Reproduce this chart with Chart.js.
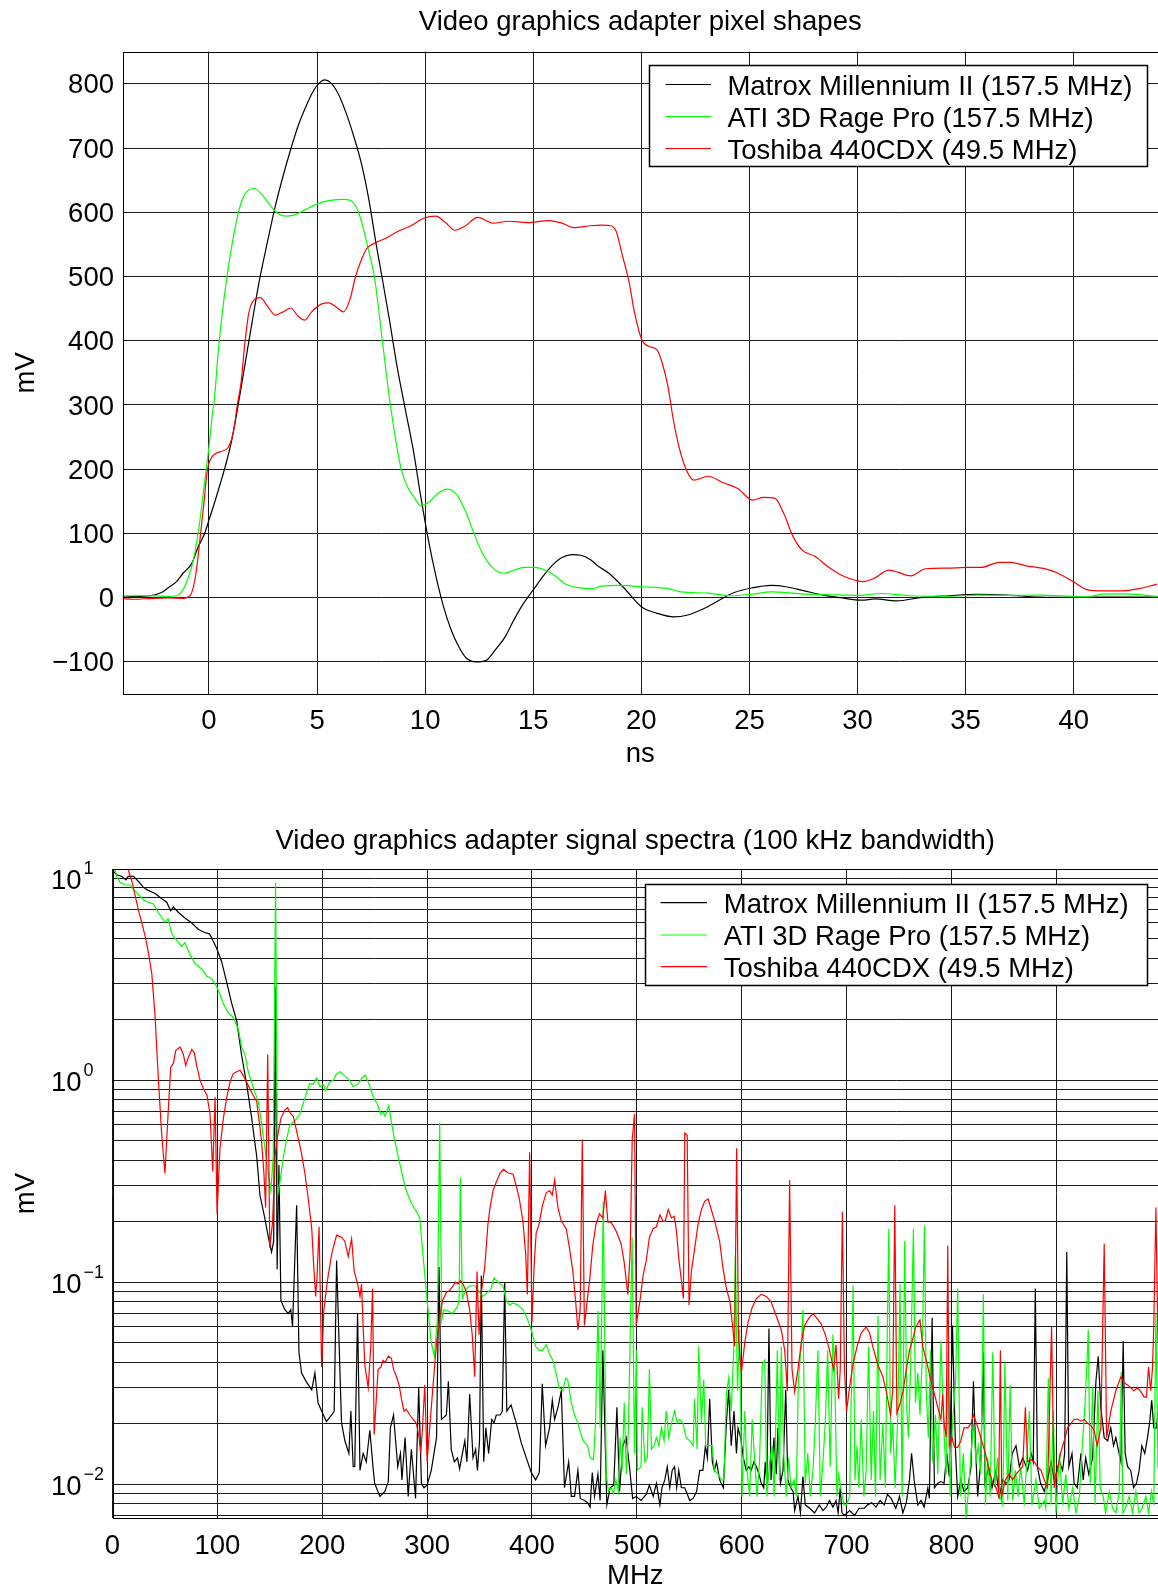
<!DOCTYPE html>
<html>

<head>
    <meta charset='utf-8'>
    <title>Video graphics adapter pixel shapes</title>
    <script src="https://cdn.jsdelivr.net/npm/chart.js@4.4.1/dist/chart.umd.min.js"></script>
    <style>
        body { margin: 0; background: #fff; }
        canvas { display: block; }
    </style>
</head>

<body>
    <canvas id="shapes" width="1158" height="790"></canvas>
    <canvas id="spectra" width="1158" height="799"></canvas>
    <script>
        var cardNames = ['Matrox Millennium II (157.5 MHz)', 'ATI 3D Rage Pro (157.5 MHz)', 'Toshiba 440CDX (49.5 MHz)'];
        var cardColors = ['#000000', '#00ff00', '#ff0000'];

        // tick positions
        var nsTicks = [0, 5, 10, 15, 20, 25, 30, 35, 40];
        var mvTicks = [-100, 0, 100, 200, 300, 400, 500, 600, 700, 800];
        var mhzTicks = [0, 100, 200, 300, 400, 500, 600, 700, 800, 900];
        var decadeValues = [10, 1, 0.1, 0.01];
        var decadeExponents = ['1', '0', '\u22121', '\u22122'];

        // pixel shapes, ns / mV
        var nsMatrox = [-4, -3.3, -2.7, -2.2, -1.9, -1.5, -1.2, -0.8, -0.5, -0.2,
            0, 0.25, 0.5, 0.8, 1.05, 1.3, 1.65, 2, 2.35, 2.7,
            3.05, 3.4, 3.8, 4.15, 4.5, 4.85, 5.1, 5.35, 5.65, 6,
            6.35, 6.7, 7.05, 7.4, 7.75, 8, 8.35, 8.7, 9.1, 9.45,
            9.8, 10.15, 10.5, 10.85, 11.2, 11.55, 11.9, 12.35, 12.8, 13.25,
            13.7, 14.1, 14.55, 15, 15.45, 15.9, 16.35, 16.8, 17.2, 17.65,
            18.05, 18.5, 19.2, 20, 20.7, 21.5, 22.15, 22.9, 23.6, 24.3,
            25.1, 26, 26.7, 27.5, 28.4, 29.2, 30.2, 30.8, 31.8, 33,
            34.2, 35.5, 36.9, 38.4, 40.1, 41.8, 43.9];
        var mvMatrox = [1, 2, 3, 8, 15, 25, 38, 53, 79, 100,
            121, 147, 175, 210, 245, 290, 360, 430, 497, 553,
            607, 653, 700, 737, 766, 790, 801, 806, 801, 783,
            754, 718, 676, 619, 547, 500, 432, 360, 290, 230,
            157, 90, 33, -14, -50, -76, -94, -100, -98, -81,
            -61, -35, -9, 12, 33, 51, 63, 67, 66, 59,
            48, 38, 15, -14, -24, -30, -27, -17, -4, 8,
            15, 19, 17, 11, 4, 0, -4, -2, -5, 0.5,
            3, 5, 4, 1, 0.5, 1, 1];

        var nsAti = [-4, -2.6, -1.9, -1.5, -1.25, -1, -0.72, -0.46, -0.19, 0,
            0.16, 0.25, 0.42, 0.69, 0.95, 1.22, 1.48, 1.75, 2.1, 2.46,
            2.81, 3.16, 3.52, 3.96, 4.4, 5.02, 5.55, 6.25, 6.61, 6.87,
            7.1, 7.35, 7.65, 8.02, 8.37, 8.64, 8.9, 9.22, 9.52, 9.79,
            10.23, 10.58, 11.02, 11.47, 11.91, 12.26, 12.61, 13.14, 13.67, 14.12,
            14.56, 15.09, 15.53, 15.97, 16.5, 17.03, 17.56, 17.9, 18.16, 19.01,
            20.03, 21.23, 21.82, 23.1, 24.12, 25.14, 26, 27.36, 28.72, 30.09,
            31.1, 32.47, 34.17, 35.54, 36.9, 38.4, 39.93, 40.61, 41.3, 42.32, 43.85];
        var mvAti = [3, 3, 2, 3, 9.5, 27, 59, 110, 183, 235,
            287, 308, 380, 464, 526, 578, 614, 632, 637, 627,
            612, 599, 594, 596, 603, 613, 618, 620, 617, 604,
            580, 545, 500, 400, 305, 245, 199, 170, 155, 143,
            150, 162, 169, 160, 131, 100, 72, 46, 38, 43,
            47, 47, 43, 35, 21, 16, 14, 15, 18, 19,
            17, 14, 9, 7, 3, 5.5, 9, 6, 4.5, 3.5,
            6.5, 3, 2, 4, 3.5, 4, 2, 1, 5.5, 6, 2];

        var nsToshiba = [-4, -3.5, -2.6, -1.9, -1.15, -1, -0.8, -0.6, -0.42, -0.25,
            -0.07, 0.16, 0.51, 0.87, 1.04, 1.17, 1.31, 1.48, 1.66, 1.84,
            2.1, 2.37, 2.72, 3.07, 3.43, 3.78, 4.13, 4.43, 4.75, 5.19,
            5.55, 5.9, 6.22, 6.52, 6.78, 7.05, 7.31, 7.67, 8.2, 8.73,
            9.35, 9.96, 10.49, 10.94, 11.38, 11.82, 12.44, 13.14, 13.85, 14.73,
            15.71, 16.33, 16.86, 17.65, 18.16, 18.59, 18.84, 19.1, 19.44, 19.69,
            20.03, 20.37, 20.72, 20.97, 21.23, 21.48, 21.74, 22.08, 22.42, 23.1,
            23.78, 24.46, 25.14, 25.66, 26.17, 26.59, 27.02, 27.44, 28.04, 28.72,
            29.31, 30.26, 30.77, 31.45, 32.47, 33.15, 34.17, 35.02, 35.71, 36.56,
            37.07, 37.75, 38.77, 39.28, 39.97, 40.65, 41.33, 42.27, 43.03, 43.85];
        var mvToshiba = [-1.5, -2.5, -1, -0.5, -1, 0.5, 7.5, 38, 90, 142,
            199, 220, 227, 233, 246, 266, 300, 334, 396, 443,
            464, 467, 453, 440, 445, 451, 438, 432, 445, 457,
            459, 452, 445, 464, 500, 526, 544, 552, 560, 570,
            579, 591, 594, 584, 572, 578, 592, 583, 586, 584,
            587, 583, 576, 579, 580, 579, 570, 536, 490, 443,
            401, 391, 386, 365, 329, 277, 235, 199, 183, 189,
            179, 170, 152, 156, 155, 131, 95, 74, 64, 46,
            34, 25, 30, 43, 34, 45, 46, 47, 47, 55,
            55, 50, 44, 38, 25, 12, 10.5, 10.5, 14, 21];

        // signal spectra, MHz / mV
        var mhzMatrox = [1, 4, 9, 12.7, 15, 20, 25, 29.5, 34, 40.6,
            47, 51.7, 55.5, 58, 62.9, 69, 75.6, 82, 88, 92.4,
            94.6, 99.4, 104, 109, 113.7, 118.4, 123, 128, 132.7, 137.5,
            140.6, 144.8, 148.6, 151.7, 153.7, 155.3, 157, 158.7, 160.6, 164.4,
            167.6, 170, 171.7, 175.6, 177.8, 180.3, 185, 190, 193, 196,
            199.4, 204, 209, 211.4, 213.7, 218.4, 221.6, 225.4, 227.3, 229.5,
            231, 233.7, 236, 239, 242, 245.4, 248.6, 250, 255, 259.7,
            263, 265, 268, 272, 274.6, 276, 279, 282, 285, 289,
            292, 294.6, 297, 300, 304, 309, 311.4, 313.7, 318.4, 320.3,
            323, 326, 329, 331, 333.7, 336, 338, 340.6, 343.8, 346.3,
            348, 350, 351.7, 354, 356, 358.7, 361.6, 363.8, 366, 369.8,
            371.7, 374, 376, 380, 385, 389.8, 394.6, 399.4, 403.5, 407,
            409.8, 413, 416.8, 419.4, 421.6, 424.8, 428, 431, 435, 437.5,
            440.6, 443.8, 446, 450, 453, 455.4, 457.5, 459.7, 462.9, 465,
            467.6, 471.4, 474.6, 478, 481, 483.5, 486.7, 489.8, 493, 496,
            499.4, 504, 509, 512, 515.6, 518.7, 522, 524, 526.7, 529,
            531.4, 533.7, 536, 538, 540, 542.5, 545.7, 550.5, 553.7, 557,
            560, 563, 565.4, 567.3, 569.5, 572, 574, 576, 579, 582.5,
            585.4, 587.6, 590, 592.7, 595, 596.5, 599, 601.6, 604.4, 606.7,
            609, 611.7, 614, 616.5, 618.7, 621, 622.5, 624, 626, 628,
            630.8, 633, 634.6, 637, 639.4, 642, 644, 646.7, 649, 650.5,
            653.7, 656, 658.4, 660.6, 664.8, 669.5, 674, 677.5, 680.6, 683.8,
            687, 690, 692, 694, 695.6, 698, 703, 707.6, 712, 717,
            720, 724, 728, 732, 736, 739, 742.5, 747, 750.5, 753.7,
            757, 760, 762, 764.8, 768, 771, 774, 777.5, 779, 781.6,
            783.8, 787, 790, 793, 795.6, 798, 801, 804, 806, 809,
            812, 815.6, 818.7, 821, 823, 825, 828, 830.5, 832, 835.5,
            838.7, 842.5, 845.7, 849, 852, 855, 858, 861.6, 864.8, 868,
            872.7, 876, 878, 880, 882, 885, 888.6, 891.7, 895, 898,
            903, 906, 908, 910, 912, 915, 917, 920, 923.5, 925.7,
            928, 931, 934.6, 937.8, 940, 942.5, 945.7, 949, 952, 954.6,
            956.8, 959, 961.6, 963.8, 965.7, 968, 971, 973.7, 976.5, 979,
            981.6, 984.4, 987, 989, 991, 993, 995.6, 997];
        var specMatrox = [10.8, 10.4, 10.2, 9.8, 10.2, 10.2, 9.6, 9.0, 8.7, 8.4,
            7.9, 7.6, 6.9, 7.2, 6.76, 6.35, 6.0, 5.57, 5.38, 5.3,
            5.06, 4.48, 3.87, 3.04, 2.39, 1.97, 1.34, 0.95, 0.65, 0.42,
            0.27, 0.213, 0.167, 0.141, 0.16, 2.9, 0.116, 0.38, 0.081, 0.073,
            0.07, 0.073, 0.0605, 0.24, 0.045, 0.0355, 0.032, 0.0293, 0.0355, 0.0253,
            0.023, 0.0204, 0.022, 0.023, 0.128, 0.0201, 0.0164, 0.0142, 0.023, 0.0122,
            0.0122, 0.07, 0.0117, 0.0142, 0.0129, 0.0185, 0.0119, 0.0101, 0.0087, 0.0092,
            0.0103, 0.019, 0.022, 0.0122, 0.0142, 0.0105, 0.017, 0.0087, 0.0149, 0.0085,
            0.030, 0.0101, 0.0096, 0.0099, 0.0117, 0.017, 0.119, 0.0209, 0.022, 0.0323,
            0.0149, 0.0129, 0.0135, 0.0119, 0.0142, 0.0164, 0.0129, 0.0279, 0.0135, 0.0149,
            0.0117, 0.0164, 0.108, 0.0129, 0.019, 0.0142, 0.0209, 0.0201, 0.022, 0.022,
            0.023, 0.10, 0.023, 0.0247, 0.0201, 0.016, 0.0135, 0.0114, 0.0105, 0.0114,
            0.0314, 0.0155, 0.019, 0.026, 0.0209, 0.024, 0.029, 0.0096, 0.0129, 0.0087,
            0.0087, 0.0117, 0.0085, 0.0083, 0.0081, 0.0077, 0.0114, 0.0087, 0.0112, 0.0083,
            0.046, 0.0079, 0.0096, 0.0099, 0.024, 0.0092, 0.0155, 0.017, 0.0122, 0.0085,
            0.0087, 0.0083, 0.0089, 0.0099, 0.0087, 0.0101, 0.0079, 0.0096, 0.0105, 0.0122,
            0.0096, 0.0117, 0.0122, 0.0096, 0.0117, 0.0096, 0.0096, 0.0083, 0.0085, 0.0092,
            0.0117, 0.0117, 0.0155, 0.0135, 0.0265, 0.0129, 0.0117, 0.0129, 0.0105, 0.0096,
            0.0201, 0.0293, 0.0155, 0.023, 0.0142, 0.019, 0.017, 0.0135, 0.0117, 0.0122,
            0.0117, 0.0129, 0.0122, 0.0112, 0.0101, 0.0096, 0.0129, 0.0099, 0.059, 0.0105,
            0.017, 0.0112, 0.019, 0.0101, 0.0117, 0.0293, 0.0105, 0.0096, 0.0092, 0.0074,
            0.0087, 0.0072, 0.0109, 0.0079, 0.0076, 0.0072, 0.0079, 0.0074, 0.0077, 0.0083,
            0.0077, 0.0083, 0.0072, 0.0096, 0.0072, 0.007, 0.0074, 0.007, 0.0076, 0.0076,
            0.0079, 0.0081, 0.0077, 0.0083, 0.0079, 0.0089, 0.0085, 0.0076, 0.0087, 0.0072,
            0.0081, 0.0105, 0.0142, 0.0101, 0.0079, 0.0083, 0.0077, 0.0096, 0.0085, 0.0667,
            0.0096, 0.0101, 0.0103, 0.0101, 0.0142, 0.0109, 0.061, 0.0142, 0.0087, 0.0105,
            0.0092, 0.0096, 0.0122, 0.0323, 0.0155, 0.0087, 0.0129, 0.045, 0.0101, 0.0122,
            0.0096, 0.0117, 0.0087, 0.0105, 0.0101, 0.0105, 0.0142, 0.0155, 0.0122, 0.0135,
            0.0117, 0.0142, 0.0129, 0.093, 0.0122, 0.0101, 0.0092, 0.0105, 0.0129, 0.0105,
            0.0129, 0.0117, 0.0142, 0.141, 0.0122, 0.0142, 0.0101, 0.0096, 0.0142, 0.0105,
            0.0135, 0.0112, 0.0135, 0.0323, 0.043, 0.024, 0.017, 0.0164, 0.019, 0.0155,
            0.017, 0.0149, 0.0129, 0.051, 0.0142, 0.0122, 0.0117, 0.0096, 0.0101, 0.0117,
            0.0155, 0.0142, 0.017, 0.0201, 0.026, 0.019, 0.019, 0.023];

        var mhzAti = [1, 2.5, 4, 7.3, 12, 16.8, 20, 24.8, 29.5, 34.3,
            39, 43.8, 50, 53, 56.5, 61, 66, 69, 74, 78.7,
            85, 89.8, 94.6, 99.4, 102.5, 105.7, 110.5, 115, 120, 123,
            126.3, 129.5, 132.7, 135.9, 139, 142, 145.4, 148.6, 151, 153.3,
            155.5, 157.5, 159.7, 163, 166, 169, 174, 178.7, 182, 185,
            188, 191.4, 194.6, 197.8, 201, 203.5, 207, 210.5, 213.7, 216.8,
            221.6, 226, 229.5, 234, 238, 241, 245.4, 248.6, 252.4, 255.5,
            258, 260, 263.5, 266, 269, 273.3, 277, 280, 285, 290,
            293, 296, 300, 304, 307, 309.8, 312, 314, 316, 320,
            324, 328.6, 330.5, 331.7, 333.6, 337.5, 340.6, 345.4, 348.6, 353,
            358, 361, 363.8, 367.6, 372.4, 375.6, 378.7, 382, 386.7, 391.4,
            396, 399.4, 403.5, 407, 410, 413.6, 416.8, 420, 423, 426,
            429.5, 432, 434, 437.5, 440.6, 443.8, 448.6, 451, 453, 455.6,
            458.7, 460.6, 463, 465, 468, 470.8, 473, 475.6, 477.8, 480,
            482.5, 484, 486, 488, 490, 492, 495.5, 497.8, 499.5, 500.6,
            504, 505, 507.6, 510, 512, 514, 516.5, 518.7, 521, 523.5,
            526, 528, 530.5, 533, 536, 538.7, 541, 544, 547, 550.5,
            553.7, 555, 557.5, 559, 561.6, 563.8, 565.7, 568.6, 571.7, 574,
            577.5, 580.6, 583, 585.4, 587.6, 590, 592.4, 594, 596, 598,
            600.3, 603, 605, 607.6, 610, 612, 614.6, 617, 619.7, 622,
            624, 626.7, 629, 631, 634, 636, 637.8, 640, 642.5, 644.8,
            647, 650, 652, 654, 656.8, 658.4, 660.6, 663, 665.4, 668,
            670, 672.7, 675, 677.5, 679.7, 682, 684.4, 687, 688.6, 690.8,
            692.4, 695, 697.5, 699.7, 703, 704.4, 706.3, 708, 710, 711.7,
            714, 716.5, 718.7, 721, 723.5, 725.7, 727.6, 730, 732, 734.6,
            737, 738.7, 740.3, 742, 744, 746.3, 749, 751, 753, 755.5,
            757.5, 759, 761, 763.8, 765.7, 768, 770, 772, 774.3, 776,
            778, 780, 782, 784.8, 787, 790, 792.7, 795, 797, 798.7,
            801, 804, 806, 808.6, 811.4, 814, 816.5, 818.7, 821, 823.5,
            825.7, 828, 830.5, 832.4, 834.6, 837, 839.4, 841.6, 844, 846.3,
            849, 851, 853.7, 856, 858.4, 861, 863.5, 866, 869.5, 874.3,
            876.8, 880.6, 883.8, 888.6, 890, 892.4, 895, 897, 899.7, 903,
            906, 909, 912, 915.6, 918.7, 922, 924.4, 927, 929, 930.5,
            932.4, 934.6, 937, 939.7, 942, 944.8, 947, 950.5, 953.7, 956.8,
            960, 962, 963.5, 966, 969.5, 972.7, 975.9, 979, 982, 985.4,
            988, 990.8, 993, 995, 997];
        var specAti = [11.2, 11, 10.2, 9.5, 9.25, 9.25, 8.8, 8.3, 7.8, 7.6,
            7.45, 6.76, 6.05, 6.3, 5.3, 4.93, 4.59, 4.8, 4.17, 3.78,
            3.55, 3.27, 3.19, 2.9, 2.66, 2.39, 2.15, 2.05, 1.79, 1.47,
            1.34, 1.1, 0.976, 0.865, 0.785, 0.616, 0.46, 0.345, 0.284, 0.42,
            9.5, 0.27, 0.313, 0.42, 0.508, 0.6, 0.63, 0.68, 0.77, 0.865,
            0.962, 0.953, 1.025, 0.93, 0.953, 0.886, 0.976, 1.0, 1.075, 1.1,
            1.05, 1.0, 0.93, 0.953, 1.025, 1.06, 0.93, 0.824, 0.766, 0.68,
            0.695, 0.663, 0.748, 0.616, 0.508, 0.4, 0.329, 0.284, 0.246, 0.223,
            0.208, 0.138, 0.081, 0.05, 0.043, 0.066, 0.616, 0.065, 0.073, 0.072,
            0.07, 0.075, 0.081, 0.329, 0.083, 0.093, 0.096, 0.096, 0.091, 0.085,
            0.089, 0.093, 0.105, 0.1, 0.096, 0.081, 0.077, 0.079, 0.077, 0.073,
            0.065, 0.058, 0.048, 0.046, 0.046, 0.049, 0.044, 0.041, 0.0355, 0.03,
            0.029, 0.0335, 0.033, 0.0253, 0.022, 0.02, 0.0164, 0.016, 0.0155, 0.0135,
            0.0132, 0.02, 0.072, 0.019, 0.25, 0.0112, 0.0092, 0.0096, 0.009, 0.0105,
            0.0092, 0.017, 0.0117, 0.0253, 0.0112, 0.019, 0.167, 0.0142, 0.046, 0.0117,
            0.0122, 0.024, 0.0129, 0.0135, 0.037, 0.0149, 0.0155, 0.017, 0.0155, 0.019,
            0.0164, 0.023, 0.017, 0.02, 0.023, 0.02, 0.0209, 0.02, 0.017, 0.0164,
            0.0155, 0.0265, 0.0149, 0.048, 0.02, 0.033, 0.0155, 0.0155, 0.0155, 0.0117,
            0.0112, 0.0105, 0.0105, 0.0279, 0.0335, 0.023, 0.046, 0.138, 0.029, 0.058,
            0.0087, 0.023, 0.0117, 0.0087, 0.0209, 0.0142, 0.0087, 0.0129, 0.039, 0.041,
            0.0087, 0.0129, 0.0155, 0.0087, 0.046, 0.0105, 0.048, 0.0142, 0.0087, 0.0135,
            0.0096, 0.0105, 0.0087, 0.0323, 0.049, 0.073, 0.0101, 0.0142, 0.0087, 0.0117,
            0.019, 0.046, 0.0087, 0.0129, 0.0201, 0.046, 0.0122, 0.055, 0.039, 0.0087,
            0.0112, 0.0092, 0.0079, 0.0079, 0.0087, 0.0253, 0.096, 0.0105, 0.0155, 0.0096,
            0.0209, 0.0087, 0.0117, 0.048, 0.0105, 0.023, 0.0087, 0.068, 0.0105, 0.0201,
            0.0096, 0.05, 0.184, 0.0142, 0.0201, 0.0096, 0.023, 0.098, 0.0087, 0.16,
            0.023, 0.017, 0.037, 0.184, 0.0253, 0.0355, 0.022, 0.04, 0.19, 0.029,
            0.017, 0.046, 0.0129, 0.022, 0.0112, 0.051, 0.019, 0.0112, 0.045, 0.0087,
            0.02, 0.0323, 0.093, 0.0087, 0.0142, 0.0068, 0.0096, 0.0142, 0.0201, 0.0129,
            0.0155, 0.0112, 0.087, 0.0079, 0.0135, 0.0087, 0.045, 0.0096, 0.0135, 0.0087,
            0.0079, 0.04, 0.0083, 0.031, 0.0083, 0.0117, 0.0087, 0.0122, 0.0079, 0.023,
            0.0079, 0.0105, 0.0076, 0.0083, 0.0076, 0.0335, 0.0079, 0.023, 0.0072, 0.0142,
            0.0079, 0.0112, 0.0076, 0.0096, 0.0072, 0.0087, 0.0142, 0.023, 0.037, 0.058,
            0.0101, 0.03, 0.0079, 0.029, 0.0096, 0.0087, 0.0072, 0.0092, 0.0076, 0.0072,
            0.0092, 0.036, 0.0072, 0.0076, 0.0087, 0.0072, 0.0092, 0.0072, 0.0076, 0.0087,
            0.0072, 0.0092, 0.0079, 0.07, 0.012];

        var mhzToshiba = [0, 8, 15, 18.4, 21.6, 24.8, 28, 31, 34.3, 37.5,
            40.6, 43.8, 47, 50, 53, 55.5, 58, 60.3, 64.4, 67.6,
            69.8, 72.4, 75.6, 78, 80.3, 83.5, 86.7, 90, 93, 95.6,
            97.8, 99.7, 102.5, 105.7, 109, 112, 115, 118.4, 121.6, 124.8,
            128, 131, 134, 137.5, 140, 142, 144.4, 146, 148, 150,
            152.7, 155, 157.5, 160.6, 164.4, 167, 170, 172.4, 176.5, 180,
            183.5, 186.7, 190, 191.7, 193.7, 195, 197, 199.4, 201.6, 205,
            209, 213.7, 218.4, 221.6, 224.8, 228, 230.5, 233.7, 236, 237.5,
            239, 240.6, 243.8, 246.3, 248, 249.5, 253.3, 256, 258, 260,
            263, 266, 268, 270.8, 273.3, 275.5, 278, 280, 283.5, 286.7,
            289.8, 292.4, 294, 295.6, 297.8, 300, 302.5, 305.7, 309, 312,
            314.6, 318.4, 321.6, 324.8, 327.3, 329.5, 331.7, 334.3, 337.5, 340.6,
            343, 345.4, 347.6, 349.5, 351.7, 355, 358, 360, 362.9, 366,
            369.8, 373, 377, 382, 385, 388, 391.4, 394, 395.6, 397.8,
            400, 402, 404, 406.7, 410, 413.6, 416.8, 419.4, 421.6, 424.8,
            428, 432.7, 436, 439, 441.6, 443.8, 446, 448, 450, 452.7,
            455, 458, 461, 464.4, 467.6, 470, 472.4, 475.6, 480, 485,
            488, 491.4, 493.6, 495.6, 497.8, 499.4, 503, 506, 509, 512,
            515.6, 518.7, 522, 525, 527, 530, 533, 535.6, 537.8, 540,
            542.5, 544.4, 545.7, 548, 549.8, 552, 555, 558.4, 561.6, 564.8,
            568, 571, 574.3, 579, 582, 585.4, 588.6, 591, 593.3, 595.2,
            597, 599.7, 602.9, 606, 610, 614, 618.7, 623.5, 628, 633,
            637.8, 641, 643.5, 645.7, 648, 650.5, 653.7, 656.8, 660, 663.8,
            668, 672, 675.9, 679.7, 683.8, 687.6, 690, 692.4, 694, 696,
            698, 700, 703, 706, 710, 714, 718.7, 722, 725, 729.8,
            734.6, 737.8, 742, 744, 746, 748, 751, 754, 757, 760,
            763, 766, 770, 772.7, 776, 779.7, 783.8, 787, 790, 791.7,
            793, 795, 796.5, 798, 800.6, 803, 806, 809, 812, 815.6,
            818.7, 821, 824, 828, 832.4, 836, 839.4, 842.5, 845, 846.7,
            848, 851.4, 855, 858.4, 861.6, 864.8, 868, 870.5, 872.7, 876,
            879, 882, 885.4, 888.6, 891.7, 895.5, 898, 901, 904, 907.6,
            910.8, 914, 917, 920, 923.5, 926.7, 930, 933, 936, 939,
            942.5, 945.7, 948, 952, 956.8, 961.6, 964.8, 968, 971, 974,
            977.5, 980.6, 983.8, 986, 988, 990, 991.7, 993, 995, 997];
        var specToshiba = [14, 12.5, 11, 9.7, 8.2, 6.9, 6.0, 5.2, 4.27, 3.35,
            2.07, 1.0, 0.533, 0.345, 0.68, 1.156, 1.21, 1.40, 1.46, 1.34,
            1.18, 1.30, 1.42, 1.37, 1.18, 1.0, 0.907, 0.845, 0.68, 0.353,
            0.824, 0.218, 0.46, 0.647, 0.824, 0.976, 1.075, 1.1, 1.12, 1.05,
            0.976, 0.907, 0.845, 0.785, 0.616, 0.508, 0.345, 0.234, 1.34, 0.148,
            0.2, 0.42, 0.533, 0.647, 0.713, 0.73, 0.68, 0.663, 0.533, 0.44,
            0.345, 0.258, 0.184, 0.125, 0.085, 0.105, 0.188, 0.038, 0.073, 0.102,
            0.138, 0.171, 0.167, 0.159, 0.134, 0.164, 0.113, 0.098, 0.085, 0.098,
            0.061, 0.039, 0.03, 0.048, 0.093, 0.0176, 0.037, 0.038, 0.041, 0.04,
            0.043, 0.042, 0.037, 0.034, 0.031, 0.0265, 0.023, 0.0235, 0.022, 0.0209,
            0.02, 0.017, 0.0142, 0.019, 0.031, 0.0129, 0.019, 0.031, 0.05, 0.066,
            0.081, 0.089, 0.091, 0.096, 0.1, 0.098, 0.102, 0.098, 0.089, 0.073,
            0.055, 0.034, 0.113, 0.055, 0.089, 0.119, 0.193, 0.234, 0.284, 0.313,
            0.348, 0.362, 0.348, 0.342, 0.3, 0.258, 0.2, 0.138, 0.087, 0.44,
            0.063, 0.119, 0.175, 0.193, 0.24, 0.277, 0.284, 0.27, 0.32, 0.234,
            0.2, 0.184, 0.145, 0.113, 0.081, 0.058, 0.073, 0.508, 0.061, 0.081,
            0.102, 0.152, 0.193, 0.218, 0.208, 0.284, 0.198, 0.198, 0.18, 0.155,
            0.125, 0.087, 0.138, 0.508, 0.68, 0.061, 0.081, 0.108, 0.128, 0.167,
            0.184, 0.188, 0.215, 0.2, 0.2, 0.229, 0.208, 0.212, 0.18, 0.131,
            0.102, 0.083, 0.547, 0.533, 0.077, 0.113, 0.145, 0.193, 0.229, 0.252,
            0.258, 0.229, 0.2, 0.159, 0.119, 0.093, 0.081, 0.063, 0.048, 0.46,
            0.052, 0.0355, 0.05, 0.063, 0.075, 0.083, 0.087, 0.085, 0.08, 0.068,
            0.058, 0.046, 0.029, 0.32, 0.037, 0.0287, 0.037, 0.05, 0.061, 0.066,
            0.07, 0.066, 0.062, 0.055, 0.046, 0.037, 0.049, 0.0265, 0.037, 0.223,
            0.037, 0.023, 0.0305, 0.039, 0.048, 0.056, 0.06, 0.056, 0.048, 0.039,
            0.034, 0.029, 0.022, 0.029, 0.24, 0.0225, 0.025, 0.029, 0.037, 0.046,
            0.052, 0.06, 0.065, 0.048, 0.041, 0.034, 0.028, 0.024, 0.0209, 0.028,
            0.0201, 0.017, 0.152, 0.0155, 0.017, 0.0152, 0.0152, 0.0164, 0.019, 0.019,
            0.02, 0.022, 0.02, 0.017, 0.0142, 0.0117, 0.0101, 0.0096, 0.0087, 0.046,
            0.0087, 0.0105, 0.0112, 0.0105, 0.0112, 0.0117, 0.0122, 0.024, 0.0129, 0.0132,
            0.0129, 0.0122, 0.0117, 0.0105, 0.0096, 0.06, 0.0096, 0.0117, 0.0142, 0.0164,
            0.019, 0.02, 0.0209, 0.021, 0.0205, 0.0209, 0.02, 0.0195, 0.0185, 0.0155,
            0.019, 0.155, 0.017, 0.023, 0.029, 0.034, 0.0318, 0.031, 0.03, 0.029,
            0.03, 0.0287, 0.027, 0.027, 0.038, 0.029, 0.037, 0.061, 0.234, 0.05];

        var FF = "'Liberation Sans', Arial, Helvetica, sans-serif";
        var FS = 27.5;
        Chart.defaults.font.family = FF;
        Chart.defaults.font.size = FS;
        Chart.defaults.color = '#000';

        function pts(xs, ys) {
            return xs.map(function (x, i) { return { x: x, y: ys[i] }; });
        }

        function fixedTicks(list) {
            return function (s) {
                s.ticks = list.map(function (v) { return { value: v }; });
            };
        }

        // axes box on top of the traces
        var frame = {
            id: 'frame',
            afterDatasetsDraw: function (chart) {
                var a = chart.chartArea, ctx = chart.ctx;
                ctx.save();
                ctx.strokeStyle = '#000';
                ctx.lineWidth = 1;
                ctx.strokeRect(Math.round(a.left) + 0.5, Math.round(a.top) + 0.5,
                    Math.round(a.right - a.left), Math.round(a.bottom - a.top));
                ctx.restore();
            }
        };

        var headText = {
            id: 'headText',
            afterDraw: function (chart, args, o) {
                var a = chart.chartArea, ctx = chart.ctx;
                ctx.save();
                ctx.font = FS + 'px ' + FF;
                ctx.fillStyle = '#000';
                ctx.textAlign = 'center';
                ctx.textBaseline = 'middle';
                ctx.fillText(o.text, (a.left + a.right) / 2, o.y);
                ctx.restore();
            }
        };

        var boxLegend = {
            id: 'boxLegend',
            afterDraw: function (chart, args, o) {
                var ctx = chart.ctx;
                ctx.save();
                ctx.fillStyle = '#fff';
                ctx.fillRect(o.x1, o.y1, o.x2 - o.x1, o.y2 - o.y1);
                ctx.strokeStyle = '#000';
                ctx.lineWidth = 1.5;
                ctx.strokeRect(o.x1, o.y1, o.x2 - o.x1, o.y2 - o.y1);
                ctx.font = FS + 'px ' + FF;
                ctx.textAlign = 'left';
                ctx.textBaseline = 'middle';
                chart.data.datasets.forEach(function (ds, i) {
                    var y = o.rows[i];
                    ctx.strokeStyle = ds.borderColor;
                    ctx.lineWidth = 1.2;
                    ctx.beginPath();
                    ctx.moveTo(o.lx1, y);
                    ctx.lineTo(o.lx2, y);
                    ctx.stroke();
                    ctx.fillStyle = '#000';
                    ctx.fillText(ds.label, o.tx, y + 2.5);
                });
                ctx.restore();
            }
        };

        // 10^n labels for the log axis
        var decadeLabels = {
            id: 'decadeLabels',
            afterDraw: function (chart, args, o) {
                var s = chart.scales.y, ctx = chart.ctx;
                ctx.save();
                ctx.fillStyle = '#000';
                ctx.textBaseline = 'middle';
                decadeValues.forEach(function (v, i) {
                    var y = s.getPixelForValue(v) + o.shift;
                    ctx.font = FS + 'px ' + FF;
                    ctx.textAlign = 'right';
                    ctx.fillText('10', o.x, y);
                    ctx.font = o.supSize + 'px ' + FF;
                    ctx.textAlign = 'left';
                    ctx.fillText(decadeExponents[i], o.x + 2, y - o.rise);
                });
                ctx.restore();
            }
        };

        function traces(xsList, ysList, smooth) {
            return cardNames.map(function (name, i) {
                return {
                    label: name,
                    data: pts(xsList[i], ysList[i]),
                    borderColor: cardColors[i],
                    backgroundColor: cardColors[i],
                    borderWidth: 1.2,
                    pointRadius: 0,
                    tension: 0,
                    cubicInterpolationMode: smooth ? 'monotone' : 'default',
                    order: 3 - i
                };
            });
        }

        var gridStyle = { color: '#1a1a1a', lineWidth: 1, drawTicks: false };

        new Chart(document.getElementById('shapes'), {
            type: 'line',
            data: {
                datasets: traces([nsMatrox, nsAti, nsToshiba], [mvMatrox, mvAti, mvToshiba], true)
            },
            options: {
                responsive: false,
                animation: false,
                devicePixelRatio: 1,
                layout: { padding: { top: 51.7, right: 0, bottom: 0, left: 0 } },
                scales: {
                    x: {
                        type: 'linear', min: -4, max: 43.9,
                        afterBuildTicks: fixedTicks(nsTicks),
                        ticks: { padding: 10.5, maxRotation: 0, autoSkip: false },
                        grid: gridStyle,
                        border: { display: false },
                        title: { display: true, text: 'ns', padding: { top: 0, bottom: 19.5 } },
                        afterFit: function (s) { s.height = 96; }
                    },
                    y: {
                        type: 'linear', min: -150, max: 850,
                        afterBuildTicks: fixedTicks(mvTicks),
                        ticks: {
                            padding: 8.5, labelOffset: 2,
                            callback: function (v) { return String(v).replace('-', '\u2212'); }
                        },
                        grid: gridStyle,
                        border: { display: false },
                        title: { display: true, text: 'mV', padding: { top: 10, bottom: 0 } },
                        afterFit: function (s) { s.width = 122.5; }
                    }
                },
                plugins: {
                    legend: { display: false },
                    tooltip: { enabled: false },
                    headText: { text: 'Video graphics adapter pixel shapes', y: 22.3 },
                    boxLegend: { x1: 649.5, y1: 65.5, x2: 1147.5, y2: 166.5, lx1: 665.5, lx2: 711, tx: 727.4, rows: [84.5, 116.5, 148.5] }
                }
            },
            plugins: [frame, headText, boxLegend]
        });

        var logTicks = [];
        [0.001, 0.01, 0.1, 1].forEach(function (d) {
            for (var k = 1; k <= 9; k++) {
                var v = +(k * d).toPrecision(3);
                if (v > 0.0068 && v <= 10) logTicks.push(v);
            }
        });
        logTicks.push(10);

        new Chart(document.getElementById('spectra'), {
            type: 'line',
            data: {
                datasets: traces([mhzMatrox, mhzAti, mhzToshiba], [specMatrox, specAti, specToshiba], false)
            },
            options: {
                responsive: false,
                animation: false,
                devicePixelRatio: 1,
                layout: { padding: { top: 79, right: 0, bottom: 0, left: 0 } },
                scales: {
                    x: {
                        type: 'linear', min: 0, max: 997,
                        afterBuildTicks: fixedTicks(mhzTicks),
                        ticks: { padding: 11.5, maxRotation: 0, autoSkip: false },
                        grid: gridStyle,
                        border: { display: false },
                        title: { display: true, text: 'MHz', padding: { top: 0, bottom: -3.5 } },
                        afterFit: function (s) { s.height = 71; }
                    },
                    y: {
                        type: 'logarithmic', min: 0.0068, max: 11.1,
                        afterBuildTicks: fixedTicks(logTicks),
                        ticks: { display: false },
                        grid: gridStyle,
                        border: { display: false },
                        title: { display: true, text: 'mV', padding: { top: 10, bottom: 0 } },
                        afterFit: function (s) { s.width = 112.5; }
                    }
                },
                plugins: {
                    legend: { display: false },
                    tooltip: { enabled: false },
                    headText: { text: 'Video graphics adapter signal spectra (100 kHz bandwidth)', y: 51 },
                    boxLegend: { x1: 645.5, y1: 94.5, x2: 1147.5, y2: 195.5, lx1: 660.5, lx2: 707, tx: 723.8, rows: [112.7, 145, 176.7] },
                    decadeLabels: { x: 81.5, supSize: 18, rise: 12, shift: 3 }
                }
            },
            plugins: [frame, headText, boxLegend, decadeLabels]
        });
    </script>
</body>

</html>
